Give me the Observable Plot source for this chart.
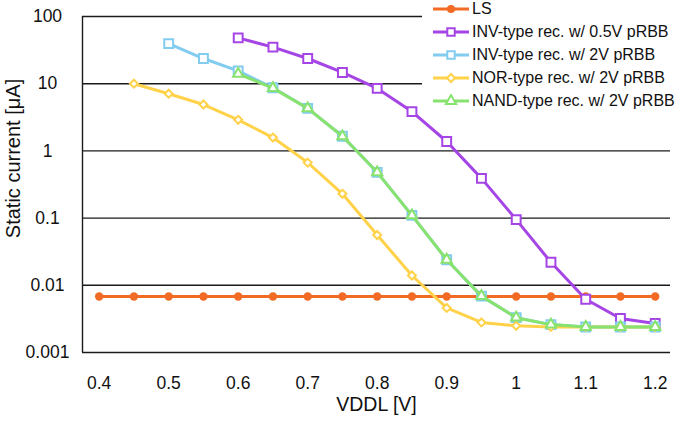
<!DOCTYPE html>
<html>
<head>
<meta charset="utf-8">
<script src="https://cdn.jsdelivr.net/npm/d3@7"></script>
<script src="https://cdn.jsdelivr.net/npm/@observablehq/plot@0.6"></script>
<style>
  body { margin: 0; background: #fff; }
  #wrap { position: relative; width: 685px; height: 423px; font-family: "Liberation Sans", Arial, sans-serif; }
  #legend { position: absolute; left: 422px; top: 0; width: 263px; height: 112px; background: #fff; }
  .row { position: absolute; left: 0; height: 18px; line-height: 18px; display: flex; align-items: center; font-size: 16px; color: #111; white-space: nowrap; }
  .row svg { margin-left: 11px; margin-right: 3px; }
</style>
</head>
<body>
<div id="wrap"></div>
<script>
const vddl = [0.4, 0.45, 0.5, 0.55, 0.6, 0.65, 0.7, 0.75, 0.8, 0.85, 0.9, 0.95, 1.0, 1.05, 1.1, 1.15, 1.2];

const lsValues = [0.0068, 0.0068, 0.0068, 0.0068, 0.0068, 0.0068, 0.0068, 0.0068, 0.0068, 0.0068, 0.0068, 0.0068, 0.0068, 0.0068, 0.0068, 0.0068, 0.0068];
const inv05Start = 0.6;
const inv05Values = [48, 35, 23.7, 14.7, 8.5, 3.85, 1.38, 0.39, 0.095, 0.022, 0.0062, 0.0032, 0.0027];
const inv2Start = 0.5;
const inv2Values = [39.5, 23.7, 15.5, 8.7, 4.3, 1.65, 0.48, 0.11, 0.024, 0.0069, 0.0033, 0.0026, 0.0024, 0.0024, 0.0024];
const norStart = 0.45;
const norValues = [10, 7.1, 4.9, 2.9, 1.58, 0.67, 0.23, 0.056, 0.014, 0.0046, 0.0028, 0.0025, 0.0024, 0.0024, 0.0024, 0.0024];
const nandStart = 0.6;
const nandValues = [14, 8.6, 4.3, 1.65, 0.48, 0.11, 0.024, 0.0069, 0.0033, 0.0026, 0.0024, 0.0024, 0.0024];

const seriesNames = ["LS", "INV-type rec. w/ 0.5V pRBB", "INV-type rec. w/ 2V pRBB", "NOR-type rec. w/ 2V pRBB", "NAND-type rec. w/ 2V pRBB"];
const seriesColors = ["#F26B25", "#A645E6", "#82CCF0", "#FFD24A", "#88E26E"];
const seriesSymbols = ["circle", "square", "square", "diamond2", "triangle"];

const xTicks = [0.4, 0.5, 0.6, 0.7, 0.8, 0.9, 1.0, 1.1, 1.2];
const xTickLabels = ["0.4", "0.5", "0.6", "0.7", "0.8", "0.9", "1", "1.1", "1.2"];
const yTicks = [0.001, 0.01, 0.1, 1, 10, 100];
const yTickLabels = ["0.001", "0.01", "0.1", "1", "10", "100"];
const xTitle = "VDDL [V]";
const yTitle = "Static current [\u03BCA]";

function build(values, start) {
  const i0 = vddl.findIndex(v => Math.abs(v - start) < 1e-9);
  return values.map((v, i) => ({x: vddl[i0 + i], y: v}));
}
const seriesData = [
  build(lsValues, 0.4),
  build(inv05Values, inv05Start),
  build(inv2Values, inv2Start),
  build(norValues, norStart),
  build(nandValues, nandStart)
];
const symbolR = [4.2, 5, 5, 3.6, 3.8];

const seriesMarks = [];
for (let k = 0; k < seriesData.length; k++) {
  const data = seriesData[k];
  seriesMarks.push(Plot.line(data, {x: "x", y: "y", stroke: seriesColors[k], strokeWidth: 3}));
  if (k === 0) {
    seriesMarks.push(Plot.dot(data, {x: "x", y: "y", fill: seriesColors[k], r: symbolR[k], symbol: "circle"}));
  } else {
    seriesMarks.push(Plot.dot(data, {x: "x", y: "y", fill: "#fff", stroke: seriesColors[k], strokeWidth: 2, r: symbolR[k], symbol: seriesSymbols[k]}));
  }
}

const chart = Plot.plot({
  width: 685,
  height: 423,
  marginLeft: 82,
  marginTop: 16,
  marginRight: 15,
  marginBottom: 71,
  style: {fontFamily: "Liberation Sans, Arial, sans-serif", fontSize: "17.5px", color: "#111", background: "#fff"},
  x: {domain: [0.376, 1.222]},
  y: {type: "log", domain: [0.001, 100]},
  marks: [
    Plot.ruleY(yTicks, {stroke: "#1a1a1a", strokeWidth: 1.4}),
    Plot.ruleX([0.376], {stroke: "#1a1a1a", strokeWidth: 1.4}),
    Plot.axisX({ticks: xTicks, tickSize: 0, tickPadding: 24, tickFormat: d => xTickLabels[xTicks.findIndex(t => Math.abs(t - d) < 1e-9)], label: null, fontSize: 17.5}),
    Plot.axisY({ticks: yTicks, tickSize: 0, tickPadding: 35, textAnchor: "middle", tickFormat: d => yTickLabels[yTicks.findIndex(t => Math.abs(t / d - 1) < 1e-6)], label: null, fontSize: 17.5}),
    Plot.text([xTitle], {frameAnchor: "bottom", textAnchor: "middle", dy: 58, fontSize: 19.5, fill: "#111"}),
    Plot.text([yTitle], {frameAnchor: "left", textAnchor: "middle", rotate: -90, dx: -69, dy: -26, fontSize: 20, fill: "#111"}),
    ...seriesMarks
  ]
});

const wrap = document.getElementById("wrap");
wrap.appendChild(chart);

// Legend
const legend = document.createElement("div");
legend.id = "legend";
const symMap = {circle: d3.symbolCircle, square: d3.symbolSquare, diamond2: d3.symbolDiamond2, triangle: d3.symbolTriangle};
seriesNames.forEach((name, k) => {
  const row = document.createElement("div");
  row.className = "row";
  row.style.top = (9 + 23 * k - 9) + "px";
  const svg = d3.create("svg").attr("width", 36).attr("height", 14);
  svg.append("line").attr("x1", 0).attr("x2", 36).attr("y1", 7).attr("y2", 7)
    .attr("stroke", seriesColors[k]).attr("stroke-width", 3);
  const r = k === 0 ? 4 : Math.min(symbolR[k], 4.2);
  const path = svg.append("path")
    .attr("transform", "translate(18,7)")
    .attr("d", d3.symbol(symMap[seriesSymbols[k]], Math.PI * r * r)());
  if (k === 0) path.attr("fill", seriesColors[k]);
  else path.attr("fill", "#fff").attr("stroke", seriesColors[k]).attr("stroke-width", 2);
  row.appendChild(svg.node());
  const span = document.createElement("span");
  span.textContent = name;
  row.appendChild(span);
  legend.appendChild(row);
});
wrap.appendChild(legend);
</script>
</body>
</html>
